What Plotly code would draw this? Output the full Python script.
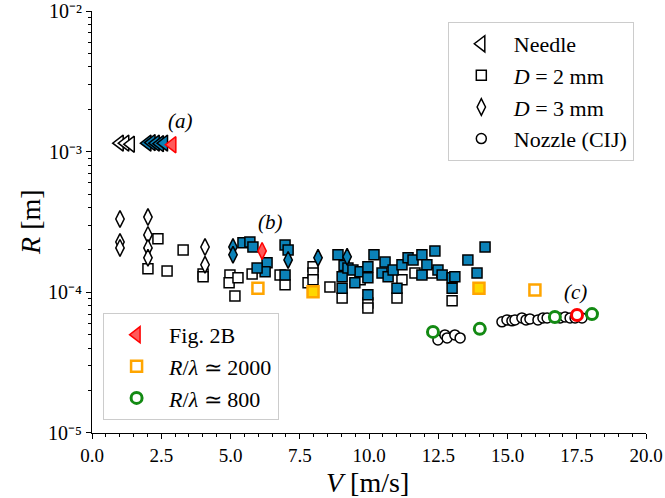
import numpy as np
import plotly.graph_objects as go

# ---------------- data ----------------
# Needle (triangles)
needle_white_V = [1.0, 1.2, 1.4]
needle_white_R = [1.15e-3, 1.15e-3, 1.13e-3]
needle_blue_V = [2.0, 2.15, 2.3, 2.45, 2.6]
needle_blue_R = [1.15e-3, 1.16e-3, 1.15e-3, 1.14e-3, 1.15e-3]
fig2b_V = [2.9]
fig2b_R = [1.12e-3]

# D = 2 mm (squares)
d2_white_V = [2.02, 2.38, 2.71, 3.29, 4.01, 4.01, 4.98, 4.95, 5.27, 5.16, 5.78, 6.79,
              6.97, 7.8, 7.98, 7.98, 7.98, 8.59, 9.03, 9.68, 9.96, 9.96, 11.19,
              11.01, 11.66, 12.27, 13.0]
d2_white_R = [1.47e-4, 2.40e-4, 1.42e-4, 2.00e-4, 1.35e-4, 1.29e-4, 1.33e-4, 1.17e-4,
              1.27e-4, 9.4e-5, 1.35e-4, 1.33e-4, 1.13e-4, 1.17e-4, 1.52e-4, 1.37e-4,
              1.23e-4, 1.09e-4, 9.1e-5, 1.23e-4, 8.4e-5, 7.75e-5, 1.23e-4, 9.1e-5,
              1.37e-4, 1.37e-4, 8.7e-5]
d2_blue_V = [5.45, 5.70, 5.81, 6.32, 6.25, 5.96, 6.97, 7.08, 6.97, 8.88, 9.03, 9.03,
             9.1, 9.24, 9.42, 9.49, 9.68, 9.96, 9.96, 9.96, 10.18, 10.58, 10.47, 10.69,
             10.87, 11.19, 11.01, 11.41, 11.59, 11.91, 12.38, 12.09, 12.49, 11.91,
             12.64, 13.0, 13.1, 13.0, 13.57, 14.19, 13.9]
d2_blue_R = [2.25e-4, 2.28e-4, 2.10e-4, 1.62e-4, 1.40e-4, 1.49e-4, 2.17e-4, 2.0e-4,
             1.33e-4, 1.85e-4, 1.29e-4, 1.07e-4, 1.55e-4, 1.49e-4, 1.44e-4, 1.17e-4,
             1.40e-4, 1.52e-4, 1.27e-4, 9.6e-5, 1.85e-4, 1.64e-4, 1.37e-4, 1.29e-4,
             1.44e-4, 1.57e-4, 1.07e-4, 1.76e-4, 1.70e-4, 1.85e-4, 1.97e-4, 1.57e-4,
             1.44e-4, 1.33e-4, 1.33e-4, 1.27e-4, 1.29e-4, 1.07e-4, 1.70e-4, 2.10e-4,
             1.37e-4]

# D = 3 mm (diamonds)
d3_white_V = [1.01, 1.01, 1.01, 2.02, 2.02, 2.02, 2.02, 4.08, 4.08]
d3_white_R = [3.32e-4, 2.28e-4, 2.07e-4, 3.43e-4, 2.56e-4, 2.07e-4, 1.76e-4, 2.10e-4, 1.57e-4]
d3_blue_V = [5.09, 5.09, 7.08, 8.16, 9.21]
d3_blue_R = [2.10e-4, 1.85e-4, 1.70e-4, 1.76e-4, 1.79e-4]
d3_red_V = [6.14]
d3_red_R = [1.97e-4]

# Nozzle (CIJ) (circles)
noz_white_V = [12.49, 12.74, 12.82, 13.1, 13.29, 14.8, 14.98, 15.16, 15.27, 15.52,
               15.67, 15.81, 16.1, 16.28, 16.43, 16.9, 17.08, 17.26, 17.44, 17.69]
noz_white_R = [4.59e-5, 4.98e-5, 4.74e-5, 4.98e-5, 4.74e-5, 6.17e-5, 6.37e-5, 6.27e-5,
               6.37e-5, 6.58e-5, 6.37e-5, 6.47e-5, 6.37e-5, 6.58e-5, 6.58e-5, 6.58e-5,
               6.68e-5, 6.58e-5, 6.58e-5, 6.58e-5]
noz_red_V = [17.51]
noz_red_R = [6.9e-5]

# R/lambda ~ 2000 (orange squares) and R/lambda ~ 800 (green circles)
r2000_V = [5.99, 15.99]
r2000_R = [1.07e-4, 1.04e-4]
r2000_filled_V = [7.98, 13.97]
r2000_filled_R = [1.01e-4, 1.07e-4]
r800_V = [12.31, 14.0, 16.71, 18.05]
r800_R = [5.23e-5, 5.5e-5, 6.68e-5, 7.0e-5]

# panel labels
label_text = ["(a)", "(b)", "(c)"]
label_V = [3.18, 6.43, 17.44]
label_R = [1.65e-3, 3.16e-4, 1.01e-4]

x_ticks = [0.0, 2.5, 5.0, 7.5, 10.0, 12.5, 15.0, 17.5, 20.0]
y_ticks = [1e-5, 1e-4, 1e-3, 1e-2]
y_ticktext = ["10⁻⁵", "10⁻⁴", "10⁻³", "10⁻²"]

# ---------------- styling ----------------
FONT = "Liberation Serif"
BLUE = "#0b82b8"
RED = "#ff0000"
REDFILL = "#ff5a5a"
ORANGE = "#ffa500"
GOLD = "#ffd700"
GREEN = "#138a13"

fig = go.Figure()


def add(V, R, symbol, size, fill, line_color, line_w, name=None, legend="legend",
        show=False, rank=1000, group=None):
    fig.add_trace(go.Scatter(
        x=V, y=R, mode="markers", name=name or "",
        marker=dict(symbol=symbol, size=size, color=fill,
                    line=dict(color=line_color, width=line_w)),
        showlegend=show, legend=legend, legendrank=rank,
        legendgroup=group or (name or "")))


# white markers (legend 1)
add(d2_white_V, d2_white_R, "square", 10, "white", "black", 1.5,
    "<i>D</i> = 2 mm", show=True, rank=2, group="g2")
add(d3_white_V, d3_white_R, "diamond-tall", 12, "white", "black", 1.5,
    "<i>D</i> = 3 mm", show=True, rank=3, group="g3")
add(needle_white_V, needle_white_R, "triangle-left", 14, "white", "black", 1.5,
    "Needle", show=True, rank=1, group="g1")
add(noz_white_V, noz_white_R, "circle", 10, "white", "black", 1.5,
    "Nozzle (CIJ)", show=True, rank=4, group="g4")

# blue markers
add(d2_blue_V, d2_blue_R, "square", 10, BLUE, "black", 1.5)
add(d3_blue_V, d3_blue_R, "diamond-tall", 12, BLUE, "black", 1.5)
add(needle_blue_V, needle_blue_R, "triangle-left", 14, BLUE, "black", 1.5)

# highlighted markers (legend 2)
add(r2000_filled_V, r2000_filled_R, "square", 11, GOLD, ORANGE, 2.5)
add(r2000_V, r2000_R, "square", 11, "white", ORANGE, 2.5,
    "<i>R</i>/<i>λ</i> ≃ 2000", legend="legend2", show=True, rank=2, group="h2")
add(r800_V, r800_R, "circle", 11, "white", GREEN, 3,
    "<i>R</i>/<i>λ</i> ≃ 800", legend="legend2", show=True, rank=3, group="h3")
add(d3_red_V, d3_red_R, "diamond-tall", 12, REDFILL, RED, 1.5)
add(noz_red_V, noz_red_R, "circle", 11, "white", RED, 3)
add(fig2b_V, fig2b_R, "triangle-left", 14, REDFILL, RED, 1.5,
    "Fig. 2B", legend="legend2", show=True, rank=1, group="h1")

for t, v, r in zip(label_text, label_V, label_R):
    fig.add_annotation(x=v, y=np.log10(r), text="<i>" + t + "</i>", showarrow=False,
                       font=dict(family=FONT, size=21, color="black"))

# axis titles as paper-positioned annotations
fig.add_annotation(text="<i>V</i> [m/s]", xref="paper", yref="paper", x=0.497, y=-0.118,
                   xanchor="center", yanchor="middle", showarrow=False,
                   font=dict(family=FONT, size=28, color="black"))
fig.add_annotation(text="<i>R</i> [m]", xref="paper", yref="paper", x=-0.112, y=0.5,
                   xanchor="center", yanchor="middle", textangle=-90, showarrow=False,
                   font=dict(family=FONT, size=28, color="black"))

axis_common = dict(showline=True, linecolor="black", linewidth=1.2, mirror=False,
                   showgrid=False, zeroline=False, ticks="outside", ticklen=5,
                   tickwidth=1.2, tickcolor="black", automargin=False,
                   ticklabeloverflow="allow",
                   tickfont=dict(family=FONT, size=19, color="black"))

fig.update_xaxes(range=[0, 20.0001], tickvals=x_ticks, tickformat=".1f",
                 minor=dict(ticks="outside", ticklen=3, tickwidth=1, tickcolor="black", dtick=0.5),
                 **axis_common)

minor_y = [m * 10.0 ** e for e in (-5, -4, -3) for m in range(2, 10)]
fig.update_yaxes(type="log", range=[-5.0001, -1.9999], tickvals=y_ticks, ticktext=y_ticktext,
                 minor=dict(ticks="outside", ticklen=3, tickwidth=1, tickcolor="black",
                            tickvals=minor_y),
                 **axis_common)
fig.update_yaxes(tickfont=dict(size=20))

fig.update_layout(
    width=665, height=498,
    margin=dict(l=92, r=19, t=11, b=65, autoexpand=False),
    plot_bgcolor="white", paper_bgcolor="white",
    font=dict(family=FONT, color="black"),
    legend=dict(x=0.978, y=0.974, xanchor="right", yanchor="top",
                bgcolor="white", bordercolor="#cccccc", borderwidth=1,
                font=dict(family=FONT, size=22, color="black"),
                tracegroupgap=10, itemwidth=55, traceorder="normal"),
    legend2=dict(x=0.02, y=0.031, xanchor="left", yanchor="bottom",
                 bgcolor="white", bordercolor="#cccccc", borderwidth=1,
                 font=dict(family=FONT, size=22, color="black"),
                 tracegroupgap=9, itemwidth=55, traceorder="normal"),
)

# remove the default page margin so the figure fills the window exactly
fig.write_html("out.html", config={"displayModeBar": False},
               post_script="document.body.style.margin='0';")
